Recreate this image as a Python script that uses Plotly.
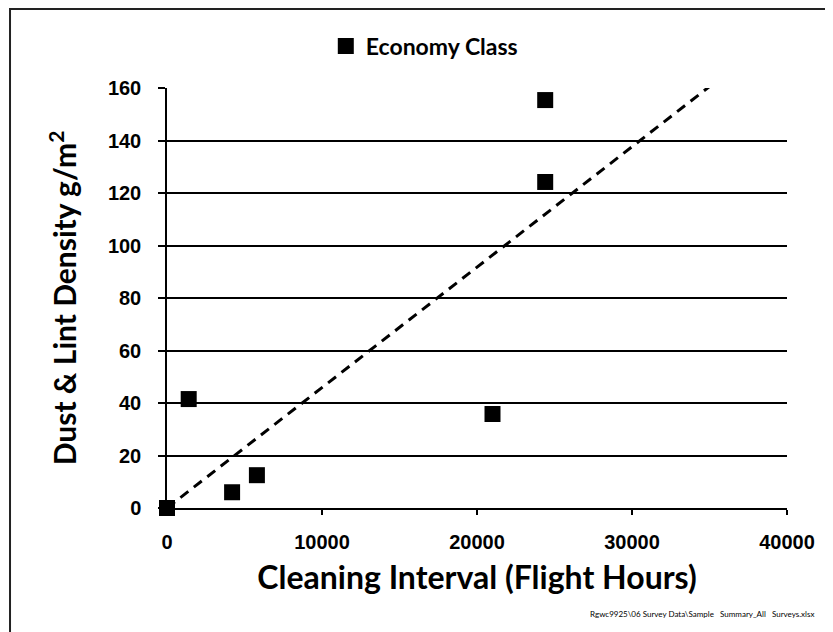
import plotly.graph_objects as go

# Data
interval_hours = [0, 1400, 4200, 5800, 21000, 24400, 24400]
density = [0, 41.5, 6, 12.5, 35.8, 155.4, 124.2]
series_name = "Economy Class"
x_ticks = [0, 10000, 20000, 30000, 40000]
y_ticks = [0, 20, 40, 60, 80, 100, 120, 140, 160]

# Linear trendline through origin (least squares)
sxy = sum(a * b for a, b in zip(interval_hours, density))
sxx = sum(a * a for a in interval_hours)
slope = sxy / sxx
trend_x = [0, x_ticks[-1]]
trend_y = [slope * v for v in trend_x]

CAL = "Lato, Carlito, Calibri, sans-serif"
ARI = "Liberation Sans, Arial, sans-serif"

fig = go.Figure()
fig.add_trace(go.Scatter(
    x=trend_x, y=trend_y, mode="lines", showlegend=False,
    line=dict(color="black", width=3, dash="10px,7px"), hoverinfo="skip"))
fig.add_trace(go.Scatter(
    x=interval_hours, y=density, mode="markers", name=series_name,
    marker=dict(symbol="square", size=16, color="black"), cliponaxis=False))

fig.update_layout(
    width=833, height=632,
    margin=dict(l=159, r=54, t=80, b=132),
    paper_bgcolor="white", plot_bgcolor="white",
    showlegend=True,
    legend=dict(orientation="h", x=0.415, xanchor="center", y=1.1, yanchor="middle",
                font=dict(family=CAL, size=23, color="black", weight="bold"),
                itemsizing="trace", bgcolor="rgba(0,0,0,0)"),
    xaxis=dict(range=[0, 40000], tickvals=x_ticks, ticktext=[str(v) for v in x_ticks],
               showgrid=False, zeroline=False, showline=True, linecolor="black", linewidth=1.5,
               ticks="outside", ticklen=5, tickwidth=1.5, tickcolor="black",
               ticklabelstandoff=10,
               tickfont=dict(family=ARI, size=20, color="black", weight="bold"),
               title=dict(text="Cleaning Interval (Flight Hours)", standoff=15,
                          font=dict(family=CAL, size=32, color="black", weight="bold"))),
    yaxis=dict(range=[0, 160], tickvals=y_ticks,
               showgrid=True, gridcolor="black", gridwidth=1.5,
               zeroline=False, showline=True, linecolor="black", linewidth=1.5,
               ticks="outside", ticklen=7, tickwidth=1.5, tickcolor="black",
               ticklabelstandoff=13,
               tickfont=dict(family=ARI, size=20, color="black", weight="bold"),
               title=dict(text="Dust & Lint Density g/m<sup>2</sup>", standoff=22,
                          font=dict(family=CAL, size=30, color="black", weight="bold"))),
    shapes=[dict(type="rect", xref="paper", yref="paper",
                 x0=-0.2532, x1=1.2, y0=-0.35, y1=1.188,
                 line=dict(color="#222", width=2), fillcolor="rgba(0,0,0,0)")],
    annotations=[dict(text="Rgwc9925\\06 Survey Data\\Sample   Summary_All   Surveys.xlsx",
                      xref="paper", yref="paper", x=1.047, y=-0.252,
                      xanchor="right", yanchor="middle", showarrow=False,
                      font=dict(family=CAL, size=8, color="black"))],
)

fig.write_html("out.html")
